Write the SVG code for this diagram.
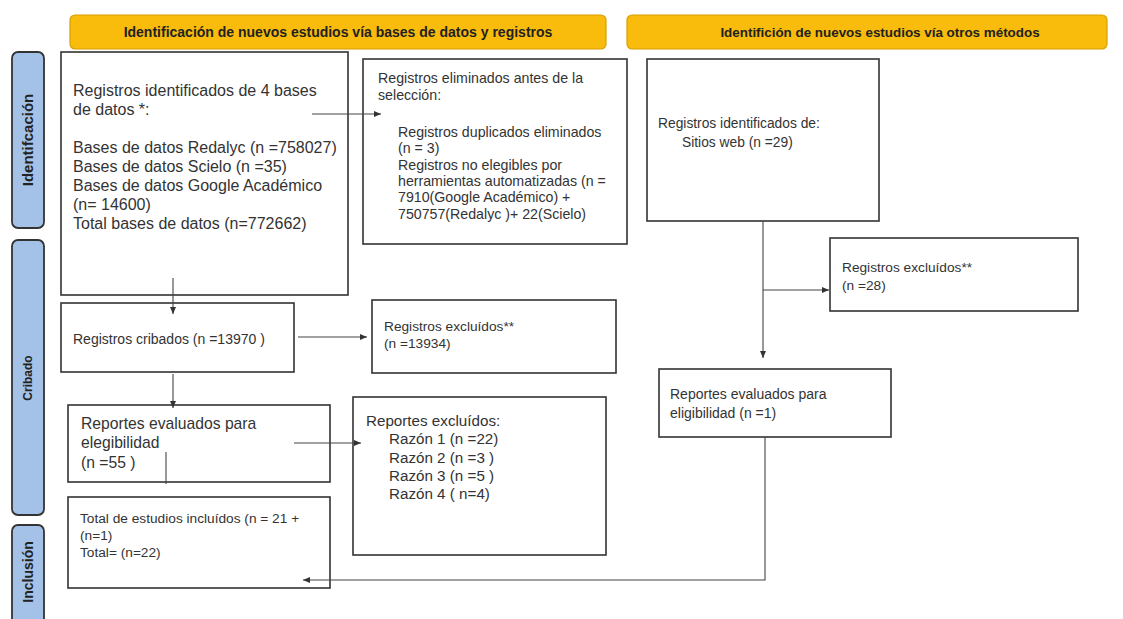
<svg xmlns="http://www.w3.org/2000/svg" width="1123" height="619" viewBox="0 0 1123 619">
<defs>
<marker id="ah" markerWidth="7" markerHeight="7" refX="7" refY="3.5" orient="auto" markerUnits="userSpaceOnUse">
<path d="M0,0.5 L7,3.5 L0,6.5 z" fill="#333"/>
</marker>
<style>
.hdr{fill:#f9bc0c;stroke:#d8a000;stroke-width:1.2}
.hdrt{font-family:"Liberation Sans",Arial,sans-serif;font-weight:bold;fill:#222;text-anchor:middle}
.side{fill:#a4c2e8;stroke:#333;stroke-width:1.8}
.sidet{font-family:"Liberation Sans",Arial,sans-serif;font-weight:bold;fill:#222;text-anchor:middle}
.box{fill:#fff;stroke:#333;stroke-width:1.6}
.t{font-family:"Liberation Sans",Arial,sans-serif;fill:#333}
.ln{fill:none;stroke:#444;stroke-width:1.1}
</style>
</defs>
<rect width="1123" height="619" fill="#fff"/>

<g id="header1"><rect class="hdr" x="70" y="15" width="536" height="34" rx="5"/><text class="hdrt" font-size="14" x="338" y="37">Identificación de nuevos estudios vía bases de datos y registros</text></g>
<g id="header2"><rect class="hdr" x="627" y="15" width="480" height="34" rx="5"/><text class="hdrt" font-size="13.4" x="880" y="37">Identifición de nuevos estudios vía otros métodos</text></g>

<g id="side-identificacion"><rect class="side" x="12" y="52" width="32" height="176" rx="6"/><text class="sidet" font-size="15" transform="translate(33,140) rotate(-90)">Identifcación</text></g>
<g id="side-cribado"><rect class="side" x="12" y="240" width="32" height="275" rx="6"/><text class="sidet" font-size="12" transform="translate(32,378) rotate(-90)">Cribado</text></g>
<g id="side-inclusion"><rect class="side" x="12" y="525" width="32" height="100" rx="6"/><text class="sidet" font-size="14" transform="translate(33,572) rotate(-90)">Inclusión</text></g>

<g id="registros-identificados"><rect class="box" x="61" y="52" width="287" height="243"/>
<text class="t" font-size="16" x="73"><tspan x="73" y="96">Registros identificados de 4 bases</tspan><tspan x="73" y="115">de datos *:</tspan><tspan x="73" y="153">Bases de datos Redalyc (n =758027)</tspan><tspan x="73" y="172">Bases de datos Scielo (n =35)</tspan><tspan x="73" y="191">Bases de datos Google Académico</tspan><tspan x="73" y="210">(n= 14600)</tspan><tspan x="73" y="229">Total bases de datos (n=772662)</tspan></text></g>

<g id="registros-eliminados"><rect class="box" x="363" y="59" width="264" height="185"/>
<text class="t" font-size="14.2"><tspan x="378" y="83">Registros eliminados antes de la</tspan><tspan x="378" y="100">selección:</tspan><tspan x="398" y="137">Registros duplicados eliminados</tspan><tspan x="398" y="153">(n = 3)</tspan><tspan x="398" y="170">Registros no elegibles por</tspan><tspan x="398" y="186">herramientas automatizadas (n =</tspan><tspan x="398" y="202">7910(Google Académico) +</tspan><tspan x="398" y="219">750757(Redalyc )+ 22(Scielo)</tspan></text></g>

<g id="registros-sitios"><rect class="box" x="647" y="59" width="232" height="162"/>
<text class="t" font-size="13.8"><tspan x="658" y="128">Registros identificados de:</tspan><tspan x="682" y="147">Sitios web (n =29)</tspan></text></g>

<g id="registros-cribados"><rect class="box" x="61" y="303" width="233" height="69"/>
<text class="t" font-size="14" x="73" y="344">Registros cribados (n =13970 )</text></g>

<g id="registros-excluidos-1"><rect class="box" x="372" y="300" width="244" height="73"/>
<text class="t" font-size="13.7"><tspan x="384" y="331">Registros excluídos**</tspan><tspan x="384" y="348">(n =13934)</tspan></text></g>

<g id="registros-excluidos-2"><rect class="box" x="830" y="238" width="248" height="73"/>
<text class="t" font-size="13.7"><tspan x="842" y="272">Registros excluídos**</tspan><tspan x="842" y="290">(n =28)</tspan></text></g>

<g id="reportes-evaluados-1"><rect class="box" x="68" y="405" width="262" height="77"/>
<text class="t" font-size="15.7"><tspan x="81" y="429">Reportes evaluados para</tspan><tspan x="81" y="448">elegibilidad</tspan><tspan x="81" y="468">(n =55 )</tspan></text></g>

<g id="reportes-excluidos"><rect class="box" x="353" y="397" width="253" height="158"/>
<text class="t" font-size="15.2"><tspan x="366" y="426">Reportes excluídos:</tspan><tspan x="389" y="444">Razón 1 (n =22)</tspan><tspan x="389" y="463">Razón 2 (n =3 )</tspan><tspan x="389" y="481">Razón 3 (n =5 )</tspan><tspan x="389" y="499">Razón 4 ( n=4)</tspan></text></g>

<g id="reportes-evaluados-2"><rect class="box" x="659" y="369" width="232" height="68"/>
<text class="t" font-size="14"><tspan x="670" y="399">Reportes evaluados para</tspan><tspan x="670" y="418">eligibilidad (n =1)</tspan></text></g>

<g id="total-incluidos"><rect class="box" x="68" y="497" width="262" height="91"/>
<text class="t" font-size="13.7"><tspan x="80" y="523">Total de estudios incluídos (n = 21 +</tspan><tspan x="80" y="540">(n=1)</tspan><tspan x="80" y="557">Total= (n=22)</tspan></text></g>

<g id="connectors">
<line class="ln" x1="312" y1="114" x2="381" y2="114" marker-end="url(#ah)"/>
<line class="ln" x1="173" y1="278" x2="173" y2="314" marker-end="url(#ah)"/>
<line class="ln" x1="298" y1="337" x2="367" y2="337" marker-end="url(#ah)"/>
<line class="ln" x1="173" y1="374" x2="173" y2="408" marker-end="url(#ah)"/>
<line class="ln" x1="294" y1="443" x2="361" y2="443" marker-end="url(#ah)"/>
<line class="ln" x1="166" y1="452" x2="166" y2="484"/>
<line class="ln" x1="763" y1="221" x2="763" y2="358" marker-end="url(#ah)"/>
<line class="ln" x1="763" y1="290" x2="829" y2="290" marker-end="url(#ah)"/>
<polyline class="ln" points="765,437 765,580 303,580" marker-end="url(#ah)"/>
</g>
</svg>
